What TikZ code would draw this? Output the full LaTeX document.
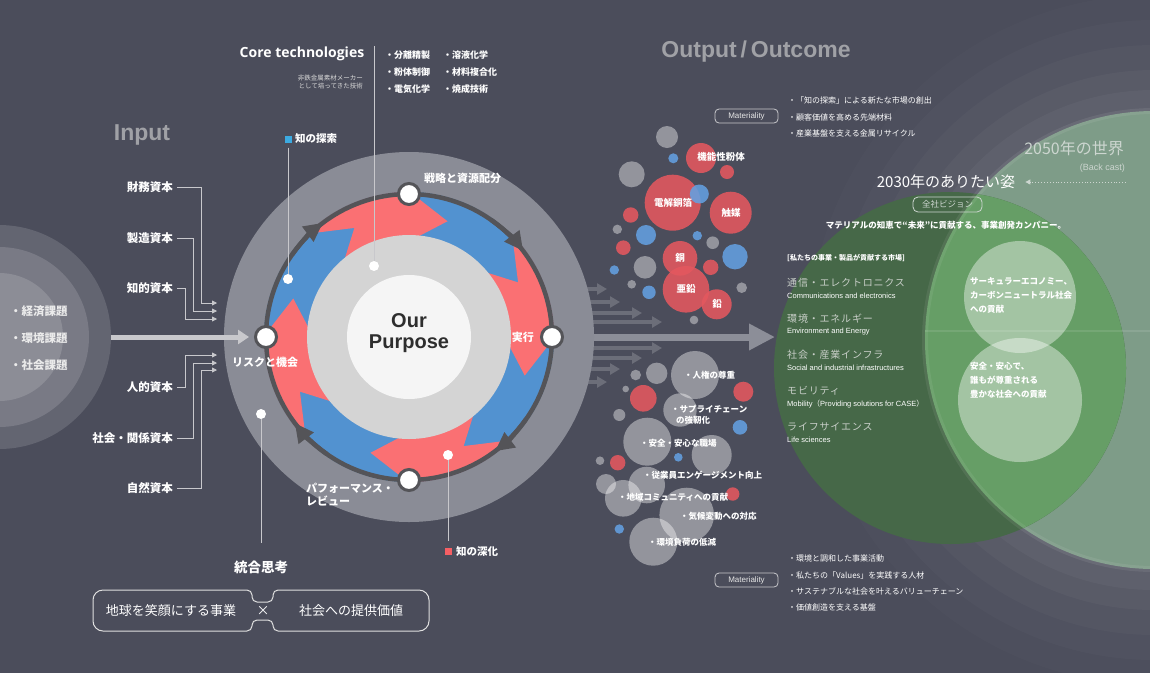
\documentclass[tikz,border=0pt]{standalone}
\usepackage{fontspec}
\setmainfont{Liberation Sans}
\newfontfamily\jp{Noto Sans CJK JP}
\newfontfamily\jpwide{Noto Sans CJK JP}[LetterSpace=8]
\newfontfamily\opensans{Open Sans}
\usetikzlibrary{arrows.meta}

\definecolor{bg}{RGB}{75,77,91}
\definecolor{issueA}{RGB}{99,101,113}
\definecolor{issueB}{RGB}{121,122,133}
\definecolor{issueC}{RGB}{140,141,150}
\definecolor{diskgray}{RGB}{138,140,150}
\definecolor{disclight}{RGB}{212,212,212}
\definecolor{discwhite}{RGB}{245,245,245}
\definecolor{ringred}{RGB}{250,112,115}
\definecolor{ringblue}{RGB}{82,146,208}
\definecolor{ringdark}{RGB}{84,84,88}
\definecolor{titlegray}{RGB}{160,161,166}
\definecolor{linegray}{RGB}{200,200,204}
\definecolor{arrowgray}{RGB}{140,142,152}
\definecolor{arrowdark}{RGB}{108,110,121}
\definecolor{bubred}{RGB}{228,88,95}
\definecolor{bubblue}{RGB}{100,160,225}
\definecolor{greendark}{RGB}{70,104,72}
\definecolor{greenmid}{RGB}{102,158,102}
\definecolor{greenpale}{RGB}{126,156,136}
\definecolor{paletext}{RGB}{205,214,208}
\definecolor{markblue}{RGB}{60,170,225}
\definecolor{markred}{RGB}{245,95,100}
\definecolor{marketgray}{RGB}{200,206,200}

\newcommand{\fsz}[2]{\fontsize{#1}{#2}\selectfont}
\newcommand{\bubbles}[2]{%
  \foreach \bx/\by/\br in {#2}{\fill[#1] (\bx,\by) circle (\br*1pt);}}

\tikzset{
  title/.style={font=\bfseries\fsz{23}{23}, text=titlegray, inner sep=0pt},
  issue-text/.style={font=\jp\bfseries\fsz{11.5}{12}, text=white!92!black, anchor=west, inner sep=0pt},
  cap-label/.style={font=\jp\bfseries\fsz{11.5}{12}, text=white, anchor=east, inner sep=4pt},
  cap-line/.style={draw=linegray, line width=0.8pt, -{Triangle[length=5pt,width=5pt]}},
  in-arrow/.style={draw=linegray, line width=5pt, -{Triangle[length=11pt,width=14pt]}, shorten >=5pt},
  ring-line/.style={draw=ringdark, line width=4.5pt},
  ring-node/.style={circle, fill=white, draw=ringdark, line width=3pt, minimum size=21pt, inner sep=0pt},
  ring-text/.style={font=\jp\bfseries\fsz{11}{13}, text=white, inner sep=0pt},
  call-dot/.style={circle, fill=white, minimum size=10pt, inner sep=0pt},
  call-line/.style={draw=linegray, line width=0.8pt},
  call-mark/.style={minimum size=7pt, inner sep=0pt},
  call-text/.style={font=\jp\bfseries\fsz{10.5}{11}, text=white, anchor=west, inner sep=0pt},
  tech-text/.style={font=\jp\bfseries\fsz{9}{9}, text=white, anchor=west, inner sep=0pt},
  out-small/.style={draw=arrowdark, line width=4.5pt, -{Triangle[length=10pt,width=11pt]}},
  out-main/.style={draw=arrowgray, line width=7pt, -{Triangle[length=26pt,width=25pt]}},
  bub-gray/.style={fill=white, fill opacity=0.4},
  bub-red/.style={fill=bubred, fill opacity=0.88},
  bub-blue/.style={fill=bubblue, fill opacity=0.88},
  bub-text/.style={font=\jp\bfseries\fsz{9.5}{10}, text=white, inner sep=0pt},
  out-text/.style={font=\jp\bfseries\fsz{8.5}{11}, text=white, anchor=west, inner sep=0pt, align=left},
  mat-box/.style={draw=linegray, line width=0.8pt, rounded corners=4pt, minimum width=63pt, minimum height=14pt, inner sep=0pt, font=\fsz{8}{8}, text=white!90!black},
  mat-text/.style={font=\jp\fsz{8}{8}, text=white, anchor=west, inner sep=0pt},
  market-head/.style={font=\jp\bfseries\fsz{7}{7}, text=white, anchor=west, inner sep=0pt},
  market-jp/.style={font=\jpwide\fsz{10}{10}, text=marketgray, anchor=west, inner sep=0pt},
  market-en/.style={font=\fsz{7.5}{8}, text=white, anchor=west, inner sep=0pt},
  circ-text/.style={font=\jp\bfseries\fsz{8.5}{14}, text=white, anchor=west, align=left, inner sep=0pt},
  box-line/.style={draw=white!88!black, line width=1pt},
  box-text/.style={font=\jp\fsz{13}{13}, text=white, inner sep=0pt},
  vision-box/.style={draw=paletext, line width=0.8pt, rounded corners=5pt, minimum width=69pt, minimum height=15pt, inner sep=0pt, font=\jp\fsz{8.5}{9}, text=paletext},
  back-arrow/.style={draw=paletext, line width=0.9pt, dotted, -{Triangle[length=5pt,width=5pt]}, shorten >=10pt}
}

\begin{document}
\begin{tikzpicture}[x=1pt, y=-1pt]
  \useasboundingbox (0,0) rectangle (1150,673);
  \clip (0,0) rectangle (1150,673);
  \fill[bg] (0,0) rectangle (1150,673);

  % Input: social issues
  \fill[issueA] (-1,337) circle (112pt);
  \fill[issueB] (-1,337) circle (90pt);
  \fill[issueC] (-1,337) circle (64pt);
  \foreach \t [count=\i] in {経済課題,環境課題,社会課題}
    \node[issue-text] (issue-\i) at (10,284+27*\i) {・\t};
  \coordinate (issues-edge) at (111,337);
  \node[title] (input) at (142,135) {Input};

  % Capitals
  \node[cap-label] (cap-fin) at (177,187) {財務資本};
  \node[cap-label] (cap-mfg) at (177,238) {製造資本};
  \node[cap-label] (cap-ip) at (177,288) {知的資本};
  \node[cap-label] (cap-hum) at (177,387) {人的資本};
  \node[cap-label] (cap-soc) at (177,438) {社会・関係資本};
  \node[cap-label] (cap-nat) at (177,488) {自然資本};
  \coordinate (in-fin) at (217,303);
  \coordinate (in-mfg) at (217,311);
  \coordinate (in-ip) at (217,319);
  \coordinate (in-hum) at (217,355);
  \coordinate (in-soc) at (217,363);
  \coordinate (in-nat) at (217,370);
  \draw[cap-line] (cap-fin.east) -- ++(24,0) |- (in-fin);
  \draw[cap-line] (cap-mfg.east) -- ++(16,0) |- (in-mfg);
  \draw[cap-line] (cap-ip.east) -- ++(8,0) |- (in-ip);
  \draw[cap-line] (cap-hum.east) -- ++(8,0) |- (in-hum);
  \draw[cap-line] (cap-soc.east) -- ++(16,0) |- (in-soc);
  \draw[cap-line] (cap-nat.east) -- ++(24,0) |- (in-nat);

  % 2050 / 2030 circles
  \foreach \r/\o in {345/0.015,320/0.02,295/0.025,270/0.03,250/0.035}
    \fill[white, opacity=\o] (1154,340) circle (\r*1pt);
  \fill[greenpale] (1154,340) circle (229pt);
  \fill[greendark] (950,368) circle (176pt);
  \begin{scope}
    \clip (950,368) circle (176pt);
    \fill[greenmid] (1154,340) circle (229pt);
  \end{scope}
  \draw[white, opacity=0.07, line width=6pt] (1154,340) circle (229pt);
  \draw[white, opacity=0.1, line width=2pt] (925,331) -- (1150,331);
  \fill[white, opacity=0.4] (1020,297) circle (56pt);
  \fill[white, opacity=0.4] (1020,400) circle (62pt);

  % Output arrows
  \foreach \y/\x in {289/607,302/620,313/642,322/662,348/662,358/642,369/620,382/607}
    \draw[out-small] (585,\y) -- (\x,\y);
  \draw[out-main] (585,337) -- (775,337);

  % Purpose cycle
  \begin{scope}[shift={(409,337)}]
    \fill[diskgray] (0,0) circle (185pt);
    \fill[ringblue] (0,0) circle (145pt);
    \foreach \a in {116.6,26.6,-63.4,-153.4}{
      \pgfmathsetmacro{\b}{\a-45}
      \fill[ringred] ({\a+18}:145pt) arc[start angle=\a+18, end angle=\b+18, radius=145pt]
        -- (\b:122pt) -- ({\b+18}:96pt) arc[start angle=\b+18, end angle=\a+18, radius=96pt]
        -- (\a:122pt) -- cycle;
    }
    \fill[disclight] (0,0) circle (102pt);
    \fill[discwhite] (0,0) circle (62pt);
    \draw[ring-line] (0,0) circle (143pt);
    \foreach \a in {135,45,-45,-135}
      \draw[ring-line, -{Triangle[length=19pt,width=18pt]}] ({\a+10}:143pt) arc[start angle=\a+10, end angle=\a-8, radius=143pt];
    \node[ring-node] (strategy) at (90:143pt) {};
    \node[ring-node] (exec) at (0:143pt) {};
    \node[ring-node] (review) at (-90:143pt) {};
    \node[ring-node] (risk) at (180:143pt) {};
    \node[font=\bfseries\fsz{20}{21}, text=black!82, align=center] (purpose) at (0,-4) {Our\\Purpose};
  \end{scope}
  \draw[in-arrow] (issues-edge) -- (risk);
  \node[ring-text, anchor=west] (strategy-lbl) at (424,178) {戦略と資源配分};
  \node[ring-text, anchor=east] (exec-lbl) at (534,337) {実行};
  \node[ring-text, anchor=west] (risk-lbl) at (232,362) {リスクと機会};
  \node[ring-text, anchor=north west, align=left] (review-lbl) at (306,483) {パフォーマンス・\\レビュー};

  % Callouts
  \node[call-mark, fill=markblue] (explore-mark) at (288,139) {};
  \node[call-text] (explore) at (295,139) {知の探索};
  \node[call-dot] (explore-dot) at (288,279) {};
  \draw[call-line] ([yshift=-5pt]explore-mark.south) -- (explore-dot);
  \coordinate (core-top) at (374,46);
  \node[call-dot] (core-dot) at (374,266) {};
  \draw[call-line] (core-top) -- (core-dot);
  \node[call-dot] (think-dot) at (261,414) {};
  \coordinate (think-end) at (261,543);
  \draw[call-line] (think-dot) -- (think-end);
  \node[call-dot] (deep-dot) at (448,455) {};
  \coordinate (deep-end) at (448,541);
  \draw[call-line] (deep-dot) -- (deep-end);
  \node[call-mark, fill=markred] (deep-mark) at (448,551) {};
  \node[call-text] (deep) at (456,551) {知の深化};

  % Core technologies
  \node[font=\opensans\bfseries\fsz{14}{14}, text=white, inner sep=0pt] (core) at (302,54) {Core technologies};
  \node[font=\jp\fsz{6.5}{8}, text=white!85!black, align=right, anchor=east, inner sep=0pt] (core-sub) at (363,82) {非鉄金属素材メーカー\\として培ってきた技術};
  \foreach \t [count=\i] in {分離精製,粉体制御,電気化学}
    \node[tech-text] (tech-a\i) at (385,38+17*\i) {・\t};
  \foreach \t [count=\i] in {溶液化学,材料複合化,焼成技術}
    \node[tech-text] (tech-b\i) at (443,38+17*\i) {・\t};

  % Bubbles
  \bubbles{bub-gray}{667/137/11, 631.7/174.3/13, 617.3/229.3/4.7, 712.7/242.7/6.3, 645/267.3/11.3, 631.7/284.3/4.3, 741.7/287.7/5.3, 694/320/4.3, 695/375/24, 656.7/373.3/10.7, 635.7/375/5.3, 625.7/389/3.3, 680/410/16.7, 619.3/415/6, 647.3/441.7/24, 711.7/455/20, 600/460.7/4.3, 646.7/485/18.3, 606/484/10, 623.3/498.3/18.3, 686.7/515/27.3, 653.3/541.7/24}
  \bubbles{bub-red}{701/158/15, 727/172/7, 672.7/202.7/28, 730.7/212.7/21, 630.7/215/7.7, 623.3/247.7/7.3, 680/258.3/17.3, 710.7/267.3/7.7, 686/289.3/23.3, 716.7/304.3/15, 643.3/398.3/13.3, 743.3/391.7/10, 617.7/462.7/7.7, 732.7/494/6.7}
  \bubbles{bub-blue}{673.3/158.3/5, 699.3/194/9.5, 646/235/10, 697.3/235.7/4.7, 735/256.7/12.7, 614.3/270/4.7, 649/292.3/6.7, 740/427.3/7.3, 678.3/457.3/4.3, 619.3/529/4.7}
  \node[bub-text] (powder) at (721,157) {機能性粉体};
  \node[bub-text] (foil) at (673,203) {電解銅箔};
  \node[bub-text] (catalyst) at (731,213) {触媒};
  \node[bub-text] (copper) at (680,258) {銅};
  \node[bub-text] (zinc) at (686,289) {亜鉛};
  \node[bub-text] (lead) at (717,304) {鉛};
  \node[out-text] (oc-1) at (684,375) {・人権の尊重};
  \node[out-text] (oc-2) at (671,414.5) {・サプライチェーン\\\hspace*{5pt}の強靭化};
  \node[out-text] (oc-3) at (640,443) {・安全・安心な職場};
  \node[out-text] (oc-4) at (643,475) {・従業員エンゲージメント向上};
  \node[out-text] (oc-5) at (618,497) {・地域コミュニティへの貢献};
  \node[out-text] (oc-6) at (680,516) {・気候変動への対応};
  \node[out-text] (oc-7) at (648,542) {・環境負荷の低減};
  \node[title] (output) at (756,52) {Output\,/\,Outcome};

  % Materiality
  \node[mat-box] (mat-top) at (746.5,116) {Materiality};
  \node[mat-text] (mt-1) at (788,100) {・「知の探索」による新たな市場の創出};
  \node[mat-text] (mt-2) at (788,117) {・顧客価値を高める先端材料};
  \node[mat-text] (mt-3) at (788,133) {・産業基盤を支える金属リサイクル};
  \node[mat-box] (mat-bot) at (746.5,580) {Materiality};
  \node[mat-text] (mb-1) at (788,558) {・環境と調和した事業活動};
  \node[mat-text] (mb-2) at (788,575) {・私たちの「Values」を実践する人材};
  \node[mat-text] (mb-3) at (788,591) {・サステナブルな社会を叶えるバリューチェーン};
  \node[mat-text] (mb-4) at (788,607) {・価値創造を支える基盤};

  % Vision
  \node[font=\jp\fsz{16}{16}, text=paletext, anchor=east, inner sep=0pt] (w2050) at (1124,148) {2050年の世界};
  \node[font=\fsz{9}{9}, text=paletext, anchor=east, inner sep=0pt] (backcast) at (1125,168) {(Back cast)};
  \node[font=\jp\fsz{15}{15}, text=white, inner sep=0pt] (w2030) at (946,182) {2030年のありたい姿};
  \coordinate (back-start) at (1126,182);
  \draw[back-arrow] (back-start) -- (w2030);
  \node[vision-box] (vision) at (947.5,204.5) {全社ビジョン};
  \node[font=\jp\bfseries\fsz{8.5}{9}, text=white, inner sep=0pt] (slogan) at (946,225) {マテリアルの知恵で“未来”に貢献する、事業創発カンパニー。};

  % Markets
  \node[market-head] (mk-head) at (787,258) {[私たちの事業・製品が貢献する市場]};
  \foreach \j/\e [count=\i] in {通信・エレクトロニクス/Communications and electronics, 環境・エネルギー/Environment and Energy, 社会・産業インフラ/Social and industrial infrastructures, モビリティ/{Mobility{\jp （}Providing solutions for CASE{\jp ）}}, ライフサイエンス/Life sciences}{
    \node[market-jp] (mk-\i) at (787,247+36*\i) {\j};
    \node[market-en] (mk-en-\i) at (787,260+36*\i) {\e};
  }
  \node[circ-text] (circ-a) at (970,295) {サーキュラーエコノミー、\\カーボンニュートラル社会\\への貢献};
  \node[circ-text] (circ-b) at (970,380) {安全・安心で、\\誰もが尊重される\\豊かな社会への貢献};

  % Integrated thinking
  \node[font=\jp\bfseries\fsz{13.5}{14}, text=white, inner sep=0pt] (think) at (261,567) {統合思考};
  \draw[box-line, rounded corners=10pt] (170,590) -- (93,590) -- (93,631) -- (170,631)
    [rounded corners=5pt] -- (252,631) -- (252,620) -- (273,620) -- (273,631) -- (350,631)
    [rounded corners=10pt] -- (429,631) -- (429,590) -- (350,590)
    [rounded corners=5pt] -- (273,590) -- (273,602) -- (252,602) -- (252,590) -- cycle;
  \node[box-text] (biz) at (171,611) {地球を笑顔にする事業};
  \node[box-text] (times) at (263,611) {×};
  \node[box-text] (value) at (351,611) {社会への提供価値};
\end{tikzpicture}
\end{document}
